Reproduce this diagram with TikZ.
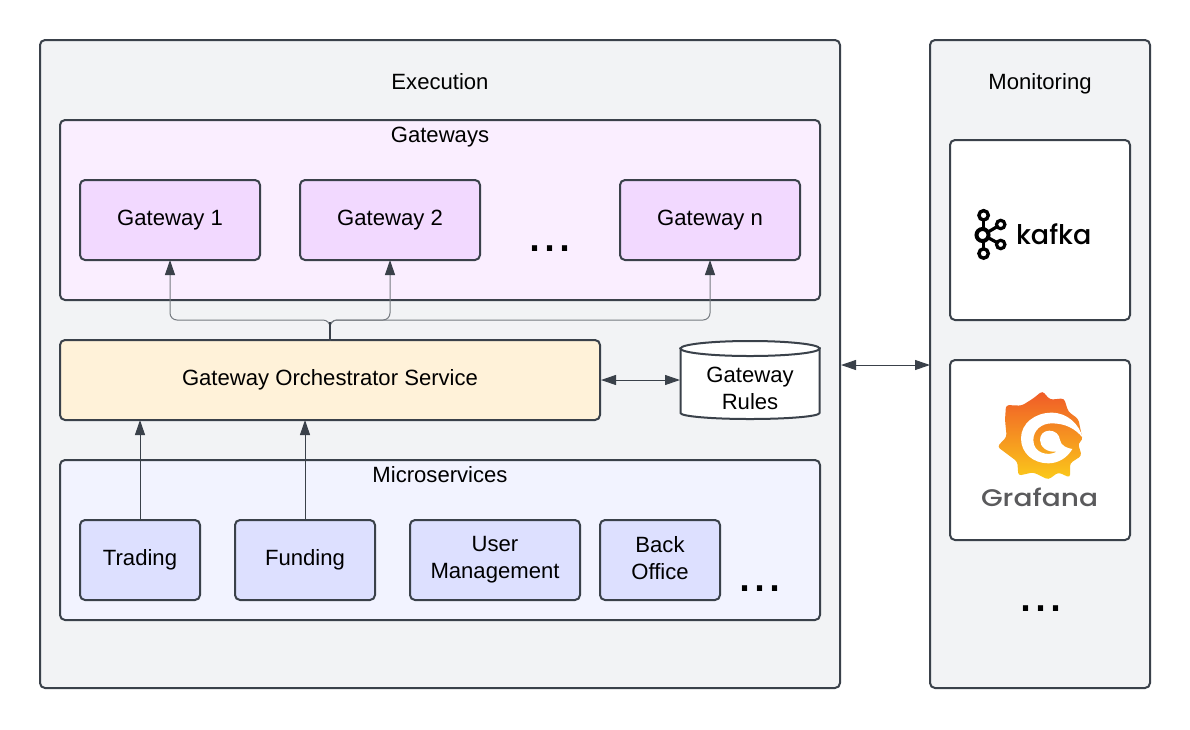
\documentclass[tikz,border=0pt]{standalone}
\usepackage{fontspec}
\setmainfont{Liberation Sans}
\newfontfamily\logofont{Poppins Medium}
\newfontfamily\graffont[FakeStretch=1.17]{Poppins Medium}
\usetikzlibrary{arrows.meta}
\definecolor{edge}{HTML}{3A414A}
\definecolor{panel}{HTML}{F2F3F5}
\definecolor{gwouter}{HTML}{FAEEFF}
\definecolor{gwinner}{HTML}{F2D9FF}
\definecolor{orchc}{HTML}{FFF2D9}
\definecolor{msouter}{HTML}{F2F3FF}
\definecolor{msinner}{HTML}{DDE0FF}
\definecolor{graf}{HTML}{5A5A5C}
\definecolor{gfA}{HTML}{F05A28}
\definecolor{gfB}{HTML}{F7931E}
\definecolor{gfC}{HTML}{FBCA1A}
\tikzset{
 x=1pt,y=-1pt,
 boxbase/.style={draw=edge,line width=2pt,rounded corners=5pt,inner sep=0pt,outer sep=0pt,align=center,anchor=north west,font=\fontsize{22.1}{26.8}\selectfont},
 panelbox/.style={boxbase,fill=panel},
 gwo/.style={boxbase,fill=gwouter},
 gwi/.style={boxbase,fill=gwinner},
 orchbox/.style={boxbase,fill=orchc},
 mso/.style={boxbase,fill=msouter},
 msi/.style={boxbase,fill=msinner},
 whitebox/.style={boxbase,fill=white},
 label/.style={inner sep=0pt,outer sep=0pt,anchor=base,font=\fontsize{22.1}{26.8}\selectfont},
 dots/.style={inner sep=0pt,outer sep=0pt,anchor=base,font=\fontsize{54}{54}\selectfont},
 conn/.style={draw=edge!70!white,line width=1pt,rounded corners=7pt,-{Triangle[length=15pt,width=10pt,color=edge]}},
 connd/.style={draw=edge,line width=1pt,-{Triangle[length=15pt,width=10pt]}},
 both/.style={draw=edge,line width=1pt,{Triangle[length=15pt,width=10pt]}-{Triangle[length=15pt,width=10pt]}},
 cyl/.style={draw=edge,line width=2pt,fill=white},
}
\newcommand{\bx}[6]{\node[#1,minimum width=#4pt,minimum height=#5pt] (#2) at #3 {#6};}
\begin{document}
\begin{tikzpicture}
\useasboundingbox (0,0) rectangle (1190,729);
\bx{panelbox}{exec}{(40,40)}{800}{648}{}
\bx{panelbox}{mon}{(930,40)}{220}{648}{}
\node[label] (exect) at (440,89.5) {Execution};
\node[label] (mont) at (1040,89.5) {Monitoring};
\bx{gwo}{gws}{(60,120)}{760}{180}{}
\node[label] (gwst) at (440,142.7) {Gateways};
\bx{gwi}{g1}{(80,180)}{180}{80}{Gateway 1}
\bx{gwi}{g2}{(300,180)}{180}{80}{Gateway 2}
\bx{gwi}{gn}{(620,180)}{180}{80}{Gateway n}
\node[dots] (d1) at (550,251) {...};
\bx{orchbox}{orch}{(60,340)}{540}{80}{Gateway Orchestrator Service}
% gateway rules cylinder
\path[cyl] (680.5,348) -- (680.5,413) arc[start angle=180,end angle=360,x radius=69.5pt,y radius=6pt] -- (819.5,348) -- cycle;
\path[cyl] (750,348.5) ellipse [x radius=69.5pt,y radius=7.5pt];
\node[inner sep=0pt,outer sep=0pt,minimum width=140pt,minimum height=80pt] (rules) at (750,380) {};
\node[label,align=center,anchor=center] (rulest) at (750,390.3) {Gateway\\Rules\vphantom{g}};
\bx{mso}{ms}{(60,460)}{760}{160}{}
\node[label] (mst) at (440,482.7) {Microservices};
\bx{msi}{tr}{(80,520)}{120}{80}{Trading}
\bx{msi}{fu}{(235,520)}{140}{80}{Funding}
\bx{msi}{um}{(410,520)}{170}{80}{User\\Management}
\bx{msi}{bo}{(600,520)}{120}{80}{Back\\Office\vphantom{g}}
\node[dots] (d2) at (760,591) {...};
\bx{whitebox}{ka}{(950,140)}{180}{180}{}
\bx{whitebox}{gr}{(950,360)}{180}{180}{}
\node[dots] (d3) at (1040.5,611) {...};
% connectors
\coordinate (orchtop) at (330,340);
\coordinate (t1) at (170,320);
\coordinate (t2) at (390,320);
\coordinate (tn) at (710,320);
\draw[conn] (orchtop) -- (330,320) -- (t1) -- (g1.south -| t1);
\draw[conn] (orchtop) -- (330,320) -- (t2) -- (g2.south -| t2);
\draw[conn] (orchtop) -- (330,320) -- (tn) -- (gn.south -| tn);
\draw[edge,line width=1.2pt] (orchtop) -- (330,322);
\draw[connd] (tr.north) -- (orch.south -| tr.north);
\draw[connd] (fu.north) -- (orch.south -| fu.north);
\draw[both] (orch.east) ++(1,0) -- (rules.west |- orch.east);
\coordinate (monl) at (mon.west |- 0,365);
\coordinate (exr) at (exec.east |- 0,365);
\draw[both] (exr) ++(1,0) -- (monl);
% kafka logo
\begin{scope}[draw=black,line width=3.2pt]
\draw (983.6,215.3) -- (983.6,253.5);
\draw (983,235) -- (1000.7,224.5);
\draw (983,235) -- (1000.7,244.5);
\draw[fill=white,line width=3.4pt] (983.6,215.3) circle (4.7);
\draw[fill=white,line width=3.4pt] (983.6,253.5) circle (4.7);
\draw[fill=white] (1000.7,224.5) circle (4.2);
\draw[fill=white] (1000.7,244.5) circle (4.2);
\draw[fill=white,line width=4pt] (982.5,235) circle (6);
\end{scope}
\node[inner sep=0pt,outer sep=0pt,anchor=base west,font=\logofont\fontsize{27}{27}\selectfont] (kaf) at (1016,244) {kafka};
% grafana logo
\begin{scope}[shift={(990,385)},x=0.3333pt,y=-0.3333pt]
\path[top color=gfA,middle color=gfB,bottom color=gfC,rounded corners=3pt]
 (157,18) -- (180,44) -- (222,40) -- (235,80) -- (265,102) -- (278,165) -- (264,175) -- (275,212) -- (240,235) -- (240,278) -- (205,262) -- (175,284) -- (130,262) -- (85,272) -- (82,230) -- (22,185) -- (50,155) -- (45,105) -- (48,60) -- (95,62) -- (130,40) -- cycle;
\fill[white] (278,158) .. controls (268,118) and (232,83) .. (185,83)
 .. controls (135,83) and (93,115) .. (93,160)
 .. controls (93,205) and (130,235) .. (175,235)
 .. controls (205,235) and (232,218) .. (247,192)
 .. controls (232,190) and (212,182) .. (210,165)
 .. controls (208,148) and (195,137) .. (178,137)
 .. controls (160,137) and (150,150) .. (150,165)
 .. controls (150,185) and (170,203) .. (200,200)
 .. controls (175,215) and (130,205) .. (130,165)
 .. controls (130,135) and (155,115) .. (185,115)
 .. controls (225,115) and (255,130) .. (278,158) -- cycle;
\end{scope}
\node[inner sep=0pt,outer sep=0pt,anchor=base west,text=graf,font=\graffont\fontsize{24}{24}\selectfont] (grt) at (981,506) {Grafana};
\end{tikzpicture}
\end{document}
